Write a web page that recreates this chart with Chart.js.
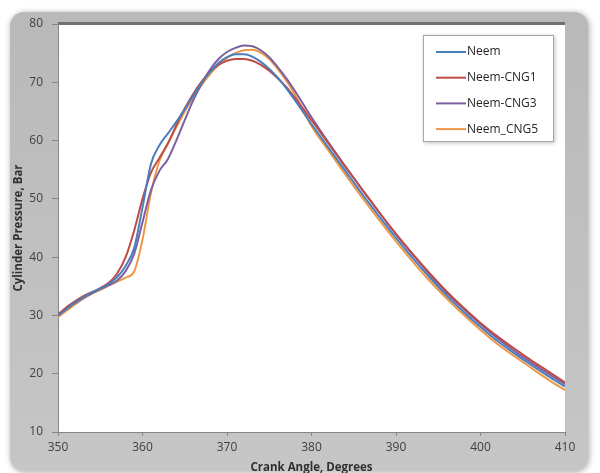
<!DOCTYPE html>
<html>
<head>
<meta charset="utf-8">
<script src="https://cdn.jsdelivr.net/npm/chart.js@4.4.1/dist/chart.umd.min.js"></script>
<style>
  html, body { margin: 0; padding: 0; background: #fff; }
  canvas { display: block; }
</style>
</head>
<body>
<canvas id="pressure" width="600" height="473"></canvas>
<script>
// crank angle (deg)
const angles = [350, 351, 352, 353, 354, 355, 356, 357, 358, 359,
    360, 361, 362, 363, 364, 365, 366, 367, 368, 369,
    370, 371, 372, 373, 374, 375, 376, 377, 378,
    380, 382, 384, 386, 388, 390, 392, 394, 396, 398, 400, 402, 404, 406, 408, 410];

const neem = [30.0, 31.1, 32.2, 33.1, 33.9, 34.6, 35.4, 36.6, 38.5, 41.5,
    48.5, 56.0, 59.2, 61.2, 63.2, 65.4, 67.7, 69.9, 71.8, 73.3,
    74.3, 74.8, 74.8, 74.4, 73.5, 72.3, 70.8, 69.0, 67.0,
    62.8, 58.8, 54.8, 50.8, 47.0, 43.3, 39.8, 36.5, 33.4, 30.6, 28.0, 25.6, 23.5, 21.5, 19.6, 17.8];

const neemCng1 = [30.2, 31.4, 32.4, 33.3, 34.0, 34.7, 35.6, 37.2, 40.0, 44.5,
    50.0, 54.5, 57.0, 59.5, 62.6, 65.5, 68.0, 70.1, 71.8, 73.0,
    73.7, 74.0, 74.0, 73.7, 73.0, 72.0, 70.7, 69.2, 67.4,
    63.5, 59.5, 55.5, 51.6, 47.7, 44.0, 40.5, 37.2, 34.1, 31.3, 28.7, 26.4, 24.3, 22.3, 20.4, 18.5];

const neemCng3 = [30.0, 31.1, 32.1, 33.0, 33.8, 34.5, 35.2, 36.0, 37.6, 40.5,
    46.0, 51.5, 54.8, 56.8, 60.0, 63.5, 66.9, 69.8, 72.2, 74.0,
    75.2, 75.9, 76.3, 76.2, 75.5, 74.3, 72.6, 70.7, 68.6,
    64.0, 59.7, 55.6, 51.6, 47.7, 43.9, 40.4, 37.0, 33.9, 31.1, 28.5, 26.1, 23.9, 21.9, 20.0, 18.2];

const neemCng5 = [29.7, 30.8, 31.9, 32.9, 33.7, 34.4, 35.1, 35.8, 36.5, 37.5,
    43.0, 51.0, 56.5, 59.5, 62.3, 65.0, 67.4, 69.5, 71.4, 73.0,
    74.2, 75.0, 75.5, 75.6, 75.1, 74.0, 72.3, 70.3, 68.0,
    62.5, 58.3, 54.2, 50.2, 46.4, 42.7, 39.2, 35.9, 32.9, 30.1, 27.5, 25.1, 23.0, 21.0, 19.0, 17.2];

const seriesNames = ['Neem', 'Neem-CNG1', 'Neem-CNG3', 'Neem_CNG5'];
const seriesColors = ['#4a7ebb', '#be4b48', '#7d60a0', '#ee9744'];
const seriesValues = [neem, neemCng1, neemCng3, neemCng5];

const FONT = "'Open Sans', 'DejaVu Sans', sans-serif";

function toPoints(vals) {
    return vals.map((v, i) => ({ x: angles[i], y: v }));
}

// grey rounded frame + white plot area
const frame = {
    id: 'frame',
    beforeDraw(chart) {
        const ctx = chart.ctx;
        const a = chart.chartArea;
        ctx.save();
        ctx.fillStyle = '#fff';
        ctx.fillRect(0, 0, chart.width, chart.height);

        ctx.shadowColor = 'rgba(0,0,0,0.35)';
        ctx.shadowBlur = 6;
        ctx.shadowOffsetX = 1;
        ctx.shadowOffsetY = 1;
        const g = ctx.createLinearGradient(0, 12, 0, 473);
        g.addColorStop(0, '#b9b9b9');
        g.addColorStop(1, '#c6c6c6');
        ctx.fillStyle = g;
        ctx.beginPath();
        ctx.roundRect(10, 12, 578, 459, 14);
        ctx.fill();
        ctx.shadowColor = 'transparent';

        ctx.fillStyle = '#fff';
        ctx.fillRect(a.left, a.top, a.right - a.left, a.bottom - a.top);

        // dark shadow line along the plot top
        ctx.strokeStyle = '#707070';
        ctx.lineWidth = 3;
        ctx.beginPath();
        ctx.moveTo(a.left, a.top - 0.5);
        ctx.lineTo(a.right, a.top - 0.5);
        ctx.stroke();
        ctx.restore();
    },
    afterDatasetsDraw(chart) {
        const ctx = chart.ctx;
        ctx.save();
        ctx.shadowColor = 'rgba(0,0,0,0.25)';
        ctx.shadowBlur = 4;
        ctx.shadowOffsetX = 1;
        ctx.shadowOffsetY = 1;
        ctx.fillStyle = '#fff';
        ctx.fillRect(423, 35, 131, 107);
        ctx.shadowColor = 'transparent';
        ctx.strokeStyle = '#a8a8a8';
        ctx.lineWidth = 1;
        ctx.strokeRect(423.5, 35.5, 130, 106);

        ctx.font = '12px ' + FONT;
        ctx.textBaseline = 'middle';
        chart.data.datasets.forEach((ds, i) => {
            const y = 52 + i * 25.7;
            ctx.strokeStyle = ds.borderColor;
            ctx.lineWidth = 2;
            ctx.beginPath();
            ctx.moveTo(436, y);
            ctx.lineTo(466, y);
            ctx.stroke();
            ctx.fillStyle = '#262626';
            ctx.fillText(ds.label, 467, y);
        });
        ctx.restore();
    }
};

new Chart(document.getElementById('pressure'), {
    type: 'line',
    data: {
        datasets: seriesNames.map((name, i) => ({
            label: name,
            data: toPoints(seriesValues[i]),
            borderColor: seriesColors[i],
            backgroundColor: seriesColors[i],
            borderWidth: 2,
            pointRadius: 0,
            cubicInterpolationMode: 'monotone',
            fill: false
        }))
    },
    options: {
        responsive: false,
        animation: false,
        devicePixelRatio: 1,
        layout: { padding: { top: 24, right: 35, left: 0, bottom: 0 } },
        plugins: {
            legend: { display: false },
            tooltip: { enabled: false }
        },
        scales: {
            x: {
                type: 'linear',
                min: 350,
                max: 410,
                afterFit: s => { s.height = 41; },
                ticks: { stepSize: 10, color: '#404040', padding: 4, font: { family: FONT, size: 12 } },
                grid: { drawOnChartArea: false, tickLength: 4, color: '#868686' },
                border: { color: '#868686', width: 1 },
                title: {
                    display: true,
                    text: 'Crank Angle, Degrees',
                    color: '#303030',
                    font: { family: FONT, size: 11.5, weight: 'bold', lineHeight: 1 },
                    padding: { top: 0, bottom: 0 }
                }
            },
            y: {
                min: 10,
                max: 80,
                afterFit: s => { s.width = 58; },
                ticks: { stepSize: 10, color: '#404040', padding: 9, font: { family: FONT, size: 12 } },
                grid: { drawOnChartArea: false, tickLength: 6, color: '#868686' },
                border: { color: '#868686', width: 1 },
                title: {
                    display: true,
                    text: 'Cylinder Pressure, Bar',
                    color: '#303030',
                    font: { family: FONT, size: 11.5, weight: 'bold', lineHeight: 1.2 },
                    padding: { top: 12, bottom: 0 }
                }
            }
        }
    },
    plugins: [frame]
});
</script>
</body>
</html>
